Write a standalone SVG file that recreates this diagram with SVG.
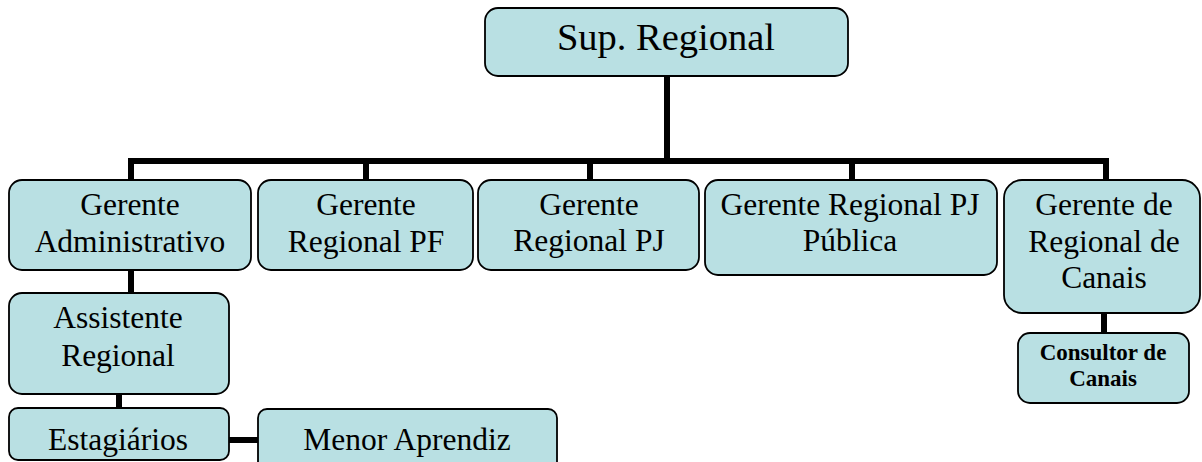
<svg xmlns="http://www.w3.org/2000/svg" width="1202" height="462" viewBox="0 0 1202 462">
<style>
.box{fill:#B9E0E3;stroke:#000;stroke-width:1.8}
.t{font-family:"Liberation Serif","Times New Roman",serif;font-size:31.5px;fill:#000;text-anchor:middle}
.big{font-size:38.5px}
.b{font-weight:bold;font-size:23px}
.c{stroke:#000;stroke-width:6;fill:none}
</style>
<rect width="1202" height="462" fill="#fff"/>
<g id="connectors">
<path class="c" d="M667 76V161M128 161H1109M131 158V180M366 161V180M590 161V180M852 161V180M1106 158V180"/>
<path class="c" d="M131 270V293M119 394V408M229 440H258M1104 313V333"/>
</g>
<g id="sup"><rect class="box" x="485" y="8" width="363" height="68" rx="13"/><text class="t big" x="666" y="50">Sup. Regional</text></g>
<g id="admin"><rect class="box" x="9" y="180" width="242" height="90" rx="13"/><text class="t" x="130" y="215">Gerente</text><text class="t" x="130" y="252">Administrativo</text></g>
<g id="pf"><rect class="box" x="258" y="180" width="215" height="90" rx="13"/><text class="t" x="366" y="215">Gerente</text><text class="t" x="366" y="252">Regional PF</text></g>
<g id="pj"><rect class="box" x="478" y="180" width="221" height="90" rx="13"/><text class="t" x="589" y="215">Gerente</text><text class="t" x="589" y="251">Regional PJ</text></g>
<g id="pjpub"><rect class="box" x="705" y="180" width="292" height="95" rx="13"/><text class="t" x="850" y="215">Gerente Regional PJ</text><text class="t" x="850" y="251">Pública</text></g>
<g id="canais"><rect class="box" x="1004" y="180" width="196" height="133" rx="18"/><text class="t" x="1104" y="215">Gerente de</text><text class="t" x="1104" y="252">Regional de</text><text class="t" x="1104" y="288">Canais</text></g>
<g id="consultor"><rect class="box" x="1018" y="333" width="171" height="70" rx="12"/><text class="t b" x="1103" y="360">Consultor de</text><text class="t b" x="1103" y="386">Canais</text></g>
<g id="assistente"><rect class="box" x="9" y="293" width="220" height="101" rx="13"/><text class="t" x="118" y="328">Assistente</text><text class="t" x="118" y="366">Regional</text></g>
<g id="estagiarios"><rect class="box" x="9" y="408" width="220" height="52" rx="9"/><text class="t" x="118" y="450">Estagiários</text></g>
<g id="menor"><rect class="box" x="258" y="409" width="299" height="62" rx="9"/><text class="t" x="407" y="450">Menor Aprendiz</text></g>
</svg>
